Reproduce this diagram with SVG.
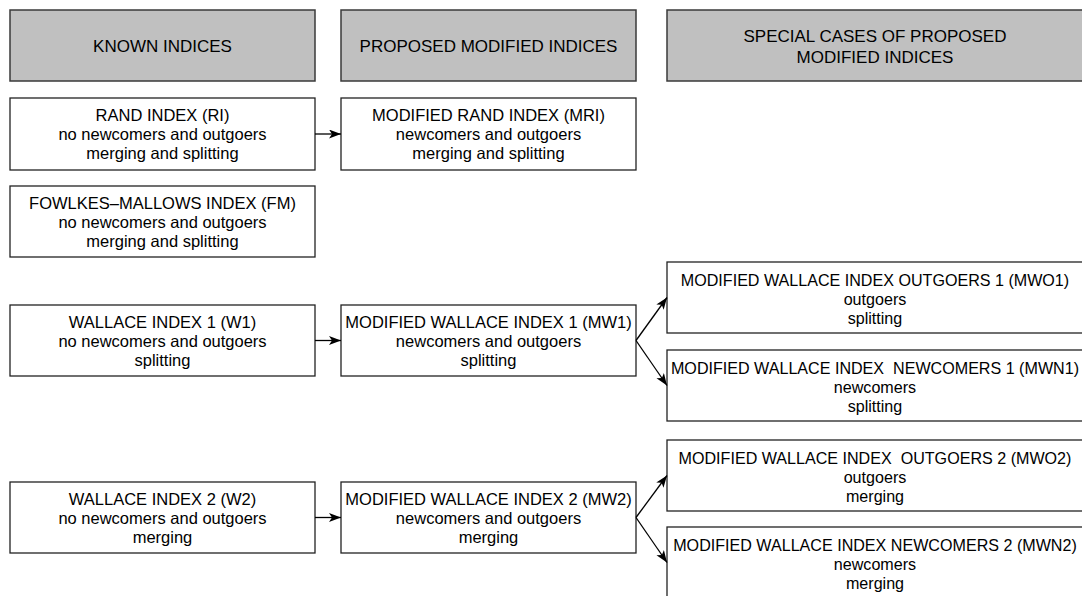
<svg xmlns="http://www.w3.org/2000/svg" width="1082" height="596" viewBox="0 0 1082 596">
  <style>
    .hdr rect { fill: #c0c0c0; stroke: #3a3a3a; stroke-width: 1.5; }
    .box rect { fill: #ffffff; stroke: #222222; stroke-width: 1.3; }
    text { font-family: "Liberation Sans", Arial, sans-serif; fill: #000; text-anchor: middle; white-space: pre; }
    .h { font-size: 17px; }
    .b { font-size: 16.5px; }
    .r { font-size: 16.1px; }
    .conn line { stroke: #000; stroke-width: 1.3; fill: none; marker-end: url(#arr); }
  </style>
  <defs>
    <marker id="arr" markerWidth="13" markerHeight="10" refX="12" refY="4.5" orient="auto" markerUnits="userSpaceOnUse">
      <path d="M0,0 L12,4.5 L0,9 L3,4.5 z" fill="#000"/>
    </marker>
  </defs>
  <rect width="1082" height="596" fill="#ffffff"/>

  <g id="hdr-known" class="hdr">
    <rect x="10" y="10" width="305" height="71"/>
    <text class="h" x="162.5" y="52">KNOWN INDICES</text>
  </g>
  <g id="hdr-proposed" class="hdr">
    <rect x="341" y="10" width="295" height="71"/>
    <text class="h" x="488.5" y="52">PROPOSED MODIFIED INDICES</text>
  </g>
  <g id="hdr-special" class="hdr">
    <rect x="667" y="10" width="416" height="71"/>
    <text class="h" x="875" y="42">SPECIAL CASES OF PROPOSED</text>
    <text class="h" x="875" y="63">MODIFIED INDICES</text>
  </g>

  <g id="ri" class="box">
    <rect x="10" y="98" width="305" height="72"/>
    <text class="b" x="162.5" y="121">RAND INDEX (RI)</text>
    <text class="b" x="162.5" y="140">no newcomers and outgoers</text>
    <text class="b" x="162.5" y="159">merging and splitting</text>
  </g>
  <g id="mri" class="box">
    <rect x="341" y="98" width="295" height="72"/>
    <text class="b" x="488.5" y="121">MODIFIED RAND INDEX (MRI)</text>
    <text class="b" x="488.5" y="140">newcomers and outgoers</text>
    <text class="b" x="488.5" y="159">merging and splitting</text>
  </g>
  <g id="fm" class="box">
    <rect x="10" y="186" width="305" height="71"/>
    <text class="b" x="162.5" y="209">FOWLKES–MALLOWS INDEX (FM)</text>
    <text class="b" x="162.5" y="228">no newcomers and outgoers</text>
    <text class="b" x="162.5" y="247">merging and splitting</text>
  </g>

  <g id="w1" class="box">
    <rect x="10" y="305" width="305" height="71"/>
    <text class="b" x="162.5" y="328">WALLACE INDEX 1 (W1)</text>
    <text class="b" x="162.5" y="347">no newcomers and outgoers</text>
    <text class="b" x="162.5" y="366">splitting</text>
  </g>
  <g id="mw1" class="box">
    <rect x="341" y="305" width="295" height="71"/>
    <text class="b" x="488.5" y="328">MODIFIED WALLACE INDEX 1 (MW1)</text>
    <text class="b" x="488.5" y="347">newcomers and outgoers</text>
    <text class="b" x="488.5" y="366">splitting</text>
  </g>
  <g id="mwo1" class="box">
    <rect x="667" y="262" width="422" height="71"/>
    <text class="r" x="875" y="286">MODIFIED WALLACE INDEX OUTGOERS 1 (MWO1)</text>
    <text class="r" x="875" y="305">outgoers</text>
    <text class="r" x="875" y="324">splitting</text>
  </g>
  <g id="mwn1" class="box">
    <rect x="667" y="350" width="422" height="71"/>
    <text class="r" x="875" y="374">MODIFIED WALLACE INDEX  NEWCOMERS 1 (MWN1)</text>
    <text class="r" x="875" y="393">newcomers</text>
    <text class="r" x="875" y="412">splitting</text>
  </g>

  <g id="w2" class="box">
    <rect x="10" y="482" width="305" height="71"/>
    <text class="b" x="162.5" y="505">WALLACE INDEX 2 (W2)</text>
    <text class="b" x="162.5" y="524">no newcomers and outgoers</text>
    <text class="b" x="162.5" y="543">merging</text>
  </g>
  <g id="mw2" class="box">
    <rect x="341" y="482" width="295" height="71"/>
    <text class="b" x="488.5" y="505">MODIFIED WALLACE INDEX 2 (MW2)</text>
    <text class="b" x="488.5" y="524">newcomers and outgoers</text>
    <text class="b" x="488.5" y="543">merging</text>
  </g>
  <g id="mwo2" class="box">
    <rect x="667" y="440" width="422" height="71"/>
    <text class="r" x="875" y="464">MODIFIED WALLACE INDEX  OUTGOERS 2 (MWO2)</text>
    <text class="r" x="875" y="483">outgoers</text>
    <text class="r" x="875" y="502">merging</text>
  </g>
  <g id="mwn2" class="box">
    <rect x="667" y="527" width="422" height="72"/>
    <text class="r" x="875" y="551">MODIFIED WALLACE INDEX NEWCOMERS 2 (MWN2)</text>
    <text class="r" x="875" y="570">newcomers</text>
    <text class="r" x="875" y="589">merging</text>
  </g>

  <g id="connectors" class="conn">
    <line x1="315" y1="134" x2="341" y2="134"/>
    <line x1="315" y1="340.5" x2="341" y2="340.5"/>
    <line x1="315" y1="517.5" x2="341" y2="517.5"/>
    <line x1="636" y1="340.5" x2="667" y2="297.5"/>
    <line x1="636" y1="340.5" x2="667" y2="385.5"/>
    <line x1="636" y1="517.5" x2="667" y2="475.5"/>
    <line x1="636" y1="517.5" x2="667" y2="562.5"/>
  </g>
</svg>
